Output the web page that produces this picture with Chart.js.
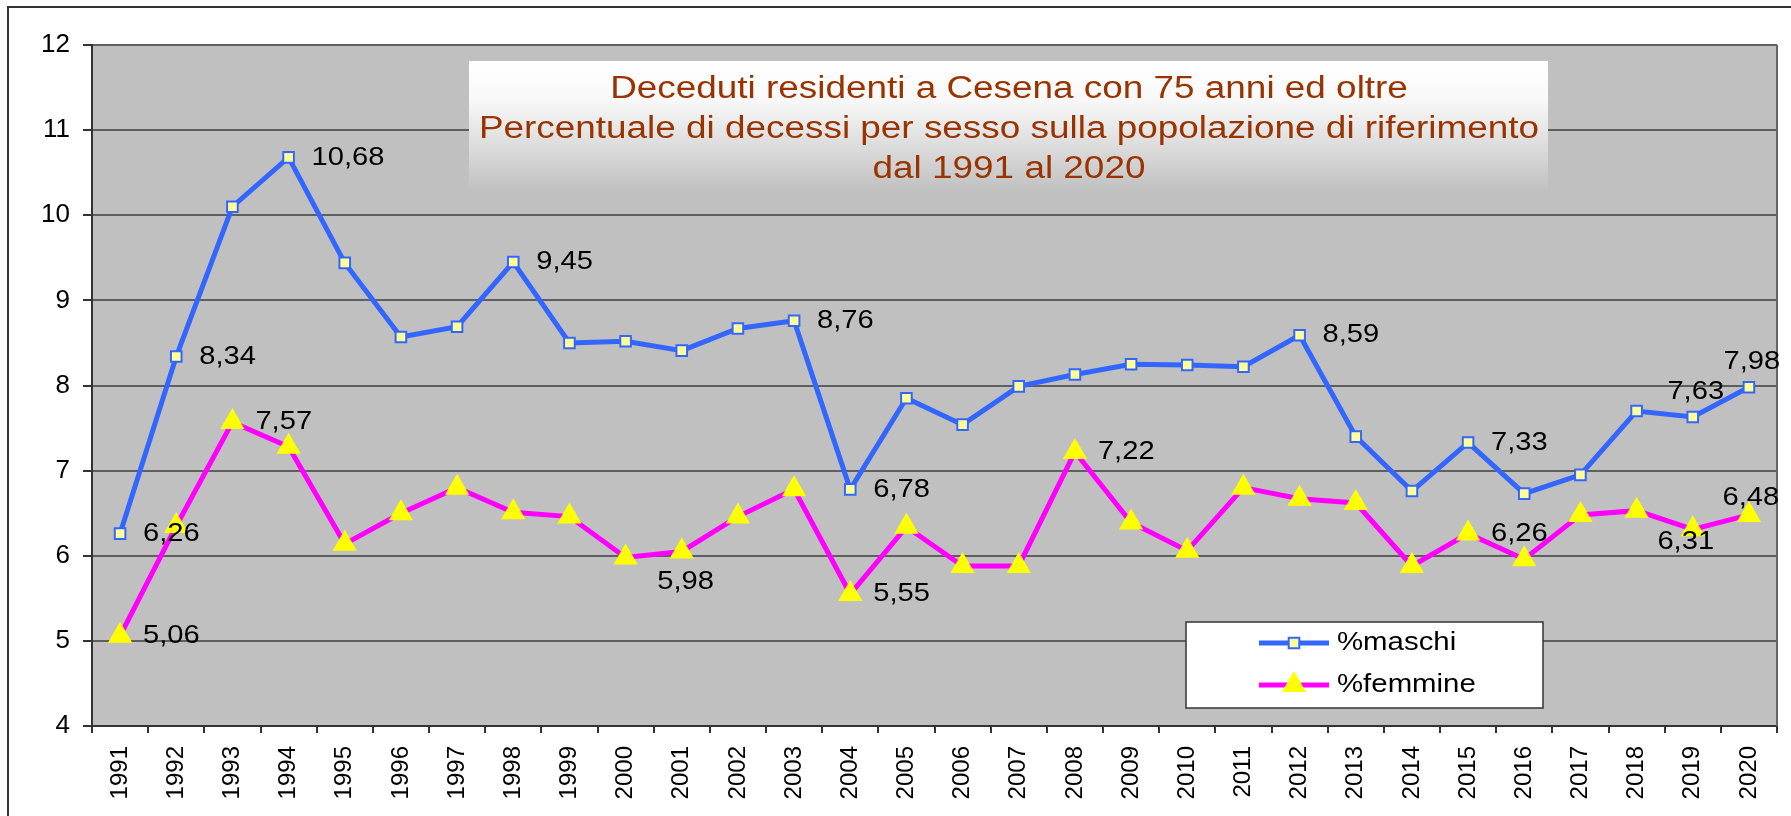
<!DOCTYPE html>
<html>
<head>
<meta charset="utf-8">
<script src="https://cdn.jsdelivr.net/npm/chart.js@4/dist/chart.umd.min.js"></script>
<style>
  html, body { margin: 0; padding: 0; background: #fff; }
  canvas { display: block; }
</style>
</head>
<body>
<canvas id="myChart" width="1791" height="816"></canvas>
<script>
let years = ['1991', '1992', '1993', '1994', '1995', '1996', '1997', '1998', '1999', '2000',
  '2001', '2002', '2003', '2004', '2005', '2006', '2007', '2008', '2009', '2010',
  '2011', '2012', '2013', '2014', '2015', '2016', '2017', '2018', '2019', '2020'];
let maschi = [6.26, 8.34, 10.10, 10.68, 9.44, 8.57, 8.69, 9.45, 8.50, 8.52,
  8.41, 8.67, 8.76, 6.78, 7.85, 7.54, 7.99, 8.13, 8.25, 8.24,
  8.22, 8.59, 7.40, 6.76, 7.33, 6.73, 6.95, 7.70, 7.63, 7.98];
let femmine = [5.06, 6.35, 7.57, 7.28, 6.14, 6.50, 6.80, 6.51, 6.46, 5.98,
  6.05, 6.46, 6.78, 5.55, 6.34, 5.88, 5.88, 7.22, 6.39, 6.06,
  6.80, 6.67, 6.62, 5.88, 6.26, 5.96, 6.48, 6.53, 6.31, 6.48];
let seriesNames = ['%maschi', '%femmine'];
let titleLines = [
  'Deceduti residenti a Cesena con 75 anni ed oltre',
  'Percentuale di decessi per sesso sulla popolazione di riferimento',
  'dal 1991 al 2020'
];

const FONT = '"Liberation Sans", Arial, sans-serif';

// where each value label sits: 'r' = right of the point, [dx, dy] = centred offset
let labelPlacement = [
  { 0: 'r', 1: 'r', 3: 'r', 7: 'r', 12: 'r', 13: 'r', 21: 'r', 24: 'r', 28: [3, -25], 29: [3, -25] },
  { 0: 'r', 2: 'r', 9: [60, 24], 13: 'r', 17: 'r', 24: 'r', 28: [-7, 12], 29: [2, -17] }
];

function stretchedText(ctx, text, x, y, align, sx) {
  ctx.save();
  ctx.translate(x, y);
  ctx.scale(sx, 1);
  ctx.textAlign = align;
  ctx.fillText(text, 0, 0);
  ctx.restore();
}

const decor = {
  id: 'decor',
  beforeDraw(chart) {
    const ctx = chart.ctx;
    const a = chart.chartArea;
    ctx.save();
    ctx.fillStyle = '#fff';
    ctx.fillRect(0, 0, chart.width, chart.height);
    // outer frame
    ctx.strokeStyle = '#333';
    ctx.lineWidth = 2;
    ctx.beginPath();
    ctx.moveTo(8, chart.height);
    ctx.lineTo(8, 7);
    ctx.lineTo(chart.width, 7);
    ctx.stroke();
    // plot area
    ctx.fillStyle = '#C0C0C0';
    ctx.fillRect(a.left, a.top, a.right - a.left, a.bottom - a.top);
    ctx.restore();
  },
  afterDatasetsDraw(chart) {
    const ctx = chart.ctx;
    const a = chart.chartArea;
    ctx.save();

    // right edge of plot
    ctx.strokeStyle = '#666';
    ctx.lineWidth = 2;
    ctx.beginPath();
    ctx.moveTo(a.right, a.top);
    ctx.lineTo(a.right, a.bottom);
    ctx.stroke();

    // title box
    let bx = 469, by = 61, bw = 1079, bh = 131;
    let g = ctx.createLinearGradient(0, by, 0, by + bh);
    g.addColorStop(0, '#ffffff');
    g.addColorStop(0.3, '#f8f8f8');
    g.addColorStop(1, '#c0c0c0');
    ctx.fillStyle = g;
    ctx.fillRect(bx, by, bw, bh);
    ctx.fillStyle = '#993300';
    ctx.font = '31px ' + FONT;
    ctx.textBaseline = 'middle';
    titleLines.forEach((t, i) => {
      stretchedText(ctx, t, 1009, 89 + i * 40, 'center', 1.19);
    });

    // legend
    ctx.fillStyle = '#fff';
    ctx.fillRect(1186, 622, 357, 86);
    ctx.strokeStyle = '#333';
    ctx.lineWidth = 1.5;
    ctx.strokeRect(1186, 622, 357, 86);
    chart.data.datasets.forEach((ds, i) => {
      let y = 643 + i * 42;
      ctx.strokeStyle = ds.borderColor;
      ctx.lineWidth = ds.borderWidth;
      ctx.beginPath();
      ctx.moveTo(1259, y);
      ctx.lineTo(1329, y);
      ctx.stroke();
      ctx.fillStyle = ds.pointBackgroundColor;
      ctx.strokeStyle = ds.pointBorderColor;
      ctx.lineWidth = ds.pointBorderWidth;
      Chart.helpers.drawPoint(ctx, {
        pointStyle: ds.pointStyle,
        radius: ds.pointRadius,
        borderWidth: ds.pointBorderWidth,
        rotation: 0
      }, 1294, y);
      ctx.fillStyle = '#000';
      ctx.font = '26px ' + FONT;
      ctx.textBaseline = 'middle';
      stretchedText(ctx, ds.label, 1337, y, 'left', 1.13);
    });

    // value labels
    ctx.fillStyle = '#000';
    ctx.font = '26px ' + FONT;
    ctx.textBaseline = 'middle';
    chart.data.datasets.forEach((ds, i) => {
      let meta = chart.getDatasetMeta(i);
      Object.keys(labelPlacement[i]).forEach(k => {
        let idx = +k;
        let pt = meta.data[idx];
        let txt = ds.data[idx].toFixed(2).replace('.', ',');
        let p = labelPlacement[i][k];
        if (p === 'r') {
          stretchedText(ctx, txt, pt.x + 23, pt.y, 'left', 1.12);
        } else {
          stretchedText(ctx, txt, pt.x + p[0], pt.y + p[1], 'center', 1.12);
        }
      });
    });
    ctx.restore();
  }
};

let ctx = document.getElementById('myChart').getContext('2d');

let myChart = new Chart(ctx, {
  type: 'line',
  data: {
    labels: years,
    datasets: [{
      label: seriesNames[0],
      data: maschi,
      borderColor: '#3366FF',
      borderWidth: 5,
      pointStyle: 'rect',
      pointRadius: 7.5,
      pointBackgroundColor: '#FFFF99',
      pointBorderColor: '#3366FF',
      pointBorderWidth: 2,
      tension: 0,
      order: 1
    }, {
      label: seriesNames[1],
      data: femmine,
      borderColor: '#FF00FF',
      borderWidth: 5,
      pointStyle: 'triangle',
      pointRadius: 14,
      pointBackgroundColor: '#FFFF00',
      pointBorderColor: '#FFFF00',
      pointBorderWidth: 0,
      tension: 0,
      order: 0
    }]
  },
  options: {
    responsive: false,
    animation: false,
    layout: {
      padding: { top: 45, right: 2, left: 0, bottom: 0 }
    },
    plugins: {
      legend: { display: false },
      tooltip: { enabled: false }
    },
    scales: {
      x: {
        offset: true,
        grid: {
          offset: true,
          drawOnChartArea: false,
          drawTicks: true,
          tickLength: 7,
          tickColor: '#333',
          lineWidth: 2
        },
        border: { color: '#333', width: 2 },
        ticks: {
          autoSkip: false,
          minRotation: 90,
          maxRotation: 90,
          padding: 13,
          color: '#000',
          font: { family: FONT, size: 24 }
        },
        afterFit: (scale) => { scale.height = 90; }
      },
      y: {
        min: 4,
        max: 12,
        ticks: {
          stepSize: 1,
          padding: 13,
          color: '#000',
          font: { family: FONT, size: 26 }
        },
        grid: {
          color: '#5f5f5f',
          lineWidth: 2,
          tickLength: 9,
          tickColor: '#333'
        },
        border: { color: '#333', width: 2 },
        afterFit: (scale) => { scale.width = 92; }
      }
    }
  },
  plugins: [decor]
});
</script>
</body>
</html>
